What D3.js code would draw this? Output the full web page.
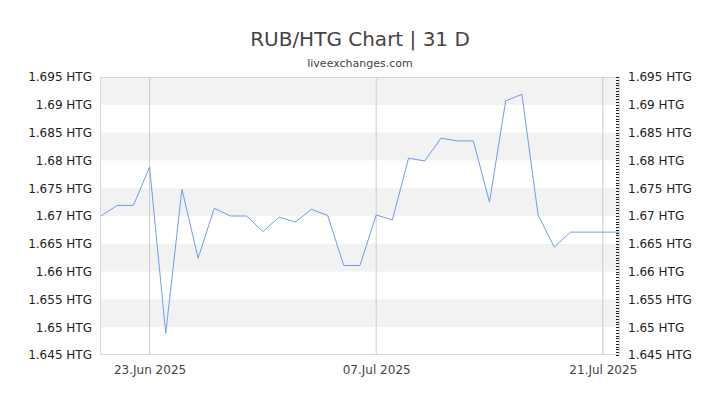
<!DOCTYPE html>
<html>
<head>
<meta charset="utf-8">
<script src="https://cdn.jsdelivr.net/npm/d3@7"></script>
<style>
  body { margin: 0; background: #fff; }
  svg text { font-family: "DejaVu Sans", sans-serif; }
</style>
</head>
<body>
<div id="chart"></div>
<script>
// Daily RUB/HTG rates, 20 Jun 2025 to 22 Jul 2025
const startDate = "2025-06-20";
const rates = [
    1.6700, 1.6719, 1.6719, 1.6788, 1.6489, 1.6748, 1.6624, 1.6714,
    1.6700, 1.6700, 1.6672, 1.6698, 1.6689, 1.6712, 1.6701, 1.6611,
    1.6611, 1.6702, 1.6693, 1.6804, 1.6799, 1.6840, 1.6835, 1.6835,
    1.6725, 1.6907, 1.6919, 1.6702, 1.6644, 1.6671, 1.6671, 1.6671,
    1.6671
];
const yTicks = [1.645, 1.65, 1.655, 1.66, 1.665, 1.67, 1.675, 1.68, 1.685, 1.69, 1.695];
const xTickDates = ["2025-06-23", "2025-07-07", "2025-07-21"];

const W = 720, H = 405;
const margin = { top: 77, right: 100, bottom: 50, left: 100 };

const parseDate = d3.timeParse("%Y-%m-%d");
const data = rates.map((v, i) => ({ date: d3.timeDay.offset(parseDate(startDate), i), value: v }));

const x = d3.scaleTime()
    .domain(d3.extent(data, d => d.date))
    .range([margin.left + 1, W - margin.right - 1]);
const y = d3.scaleLinear()
    .domain([1.645, 1.695])
    .range([H - margin.bottom, margin.top]);

const svg = d3.select("#chart")
    .append("svg")
        .attr("width", W)
        .attr("height", H)
;

// Titles
svg.append("text")
    .attr("x", W / 2)
    .attr("y", 46)
    .attr("text-anchor", "middle")
    .attr("font-size", 20)
    .attr("fill", "#444")
    .text("RUB/HTG Chart | 31 D")
;
svg.append("text")
    .attr("x", W / 2)
    .attr("y", 67)
    .attr("text-anchor", "middle")
    .attr("font-size", 11)
    .attr("fill", "#444")
    .text("liveexchanges.com")
;

// Alternating bands
const bands = yTicks.slice(0, -1).filter((d, i) => i % 2 === 1);
svg.append("g")
    .selectAll("rect")
    .data(bands)
    .join("rect")
        .attr("x", margin.left)
        .attr("width", W - margin.left - margin.right)
        .attr("y", d => y(d + 0.005))
        .attr("height", d => y(d) - y(d + 0.005))
        .attr("fill", "#f2f2f2")
;

// Vertical gridlines
svg.append("g")
    .selectAll("line")
    .data(xTickDates.map(parseDate))
    .join("line")
        .attr("x1", d => x(d)).attr("x2", d => x(d))
        .attr("y1", margin.top).attr("y2", H - margin.bottom)
        .attr("stroke", "#ccc")
;

// Plot border
svg.append("rect")
    .attr("x", margin.left + 0.5)
    .attr("y", margin.top + 0.5)
    .attr("width", W - margin.left - margin.right - 1)
    .attr("height", H - margin.top - margin.bottom - 1)
    .attr("fill", "none")
    .attr("stroke", "#d6d6d6")
;

// Minor ticks on right edge
const minor = d3.range(0, 101).map(i => 1.645 + i * 0.0005);
svg.append("g")
    .selectAll("line")
    .data(minor)
    .join("line")
        .attr("x1", W - margin.right - 4).attr("x2", W - margin.right - 1)
        .attr("y1", d => Math.round(y(d)) + 0.5).attr("y2", d => Math.round(y(d)) + 0.5)
        .attr("stroke", "#222")
;

// Y axes labels, both sides
const fmt = d => d3.format(".3~f")(d) + " HTG";
svg.append("g")
    .attr("transform", `translate(${margin.left},0)`)
    .call(d3.axisLeft(y).tickValues(yTicks).tickFormat(fmt).tickSize(0).tickPadding(8))
    .call(g => g.select(".domain").remove())
    .call(g => g.selectAll("text").attr("font-size", 12).attr("fill", "#222").attr("font-family", "DejaVu Sans"))
;
svg.append("g")
    .attr("transform", `translate(${W - margin.right},0)`)
    .call(d3.axisRight(y).tickValues(yTicks).tickFormat(fmt).tickSize(0).tickPadding(8))
    .call(g => g.select(".domain").remove())
    .call(g => g.selectAll("text").attr("font-size", 12).attr("fill", "#222").attr("font-family", "DejaVu Sans"))
;

// X axis labels
svg.append("g")
    .attr("transform", `translate(0,${H - margin.bottom})`)
    .call(d3.axisBottom(x)
        .tickValues(xTickDates.map(parseDate))
        .tickFormat(d3.timeFormat("%d.%b %Y"))
        .tickSize(0)
        .tickPadding(10))
    .call(g => g.select(".domain").remove())
    .call(g => g.selectAll("text").attr("font-size", 12).attr("fill", "#444").attr("font-family", "DejaVu Sans"))
;

// Line
const line = d3.line()
    .x(d => x(d.date))
    .y(d => y(d.value))
;
svg.append("path")
    .datum(data)
    .attr("d", line)
    .attr("fill", "none")
    .attr("stroke", "#6f9cee")
    .attr("stroke-width", 1)
;
</script>
</body>
</html>
